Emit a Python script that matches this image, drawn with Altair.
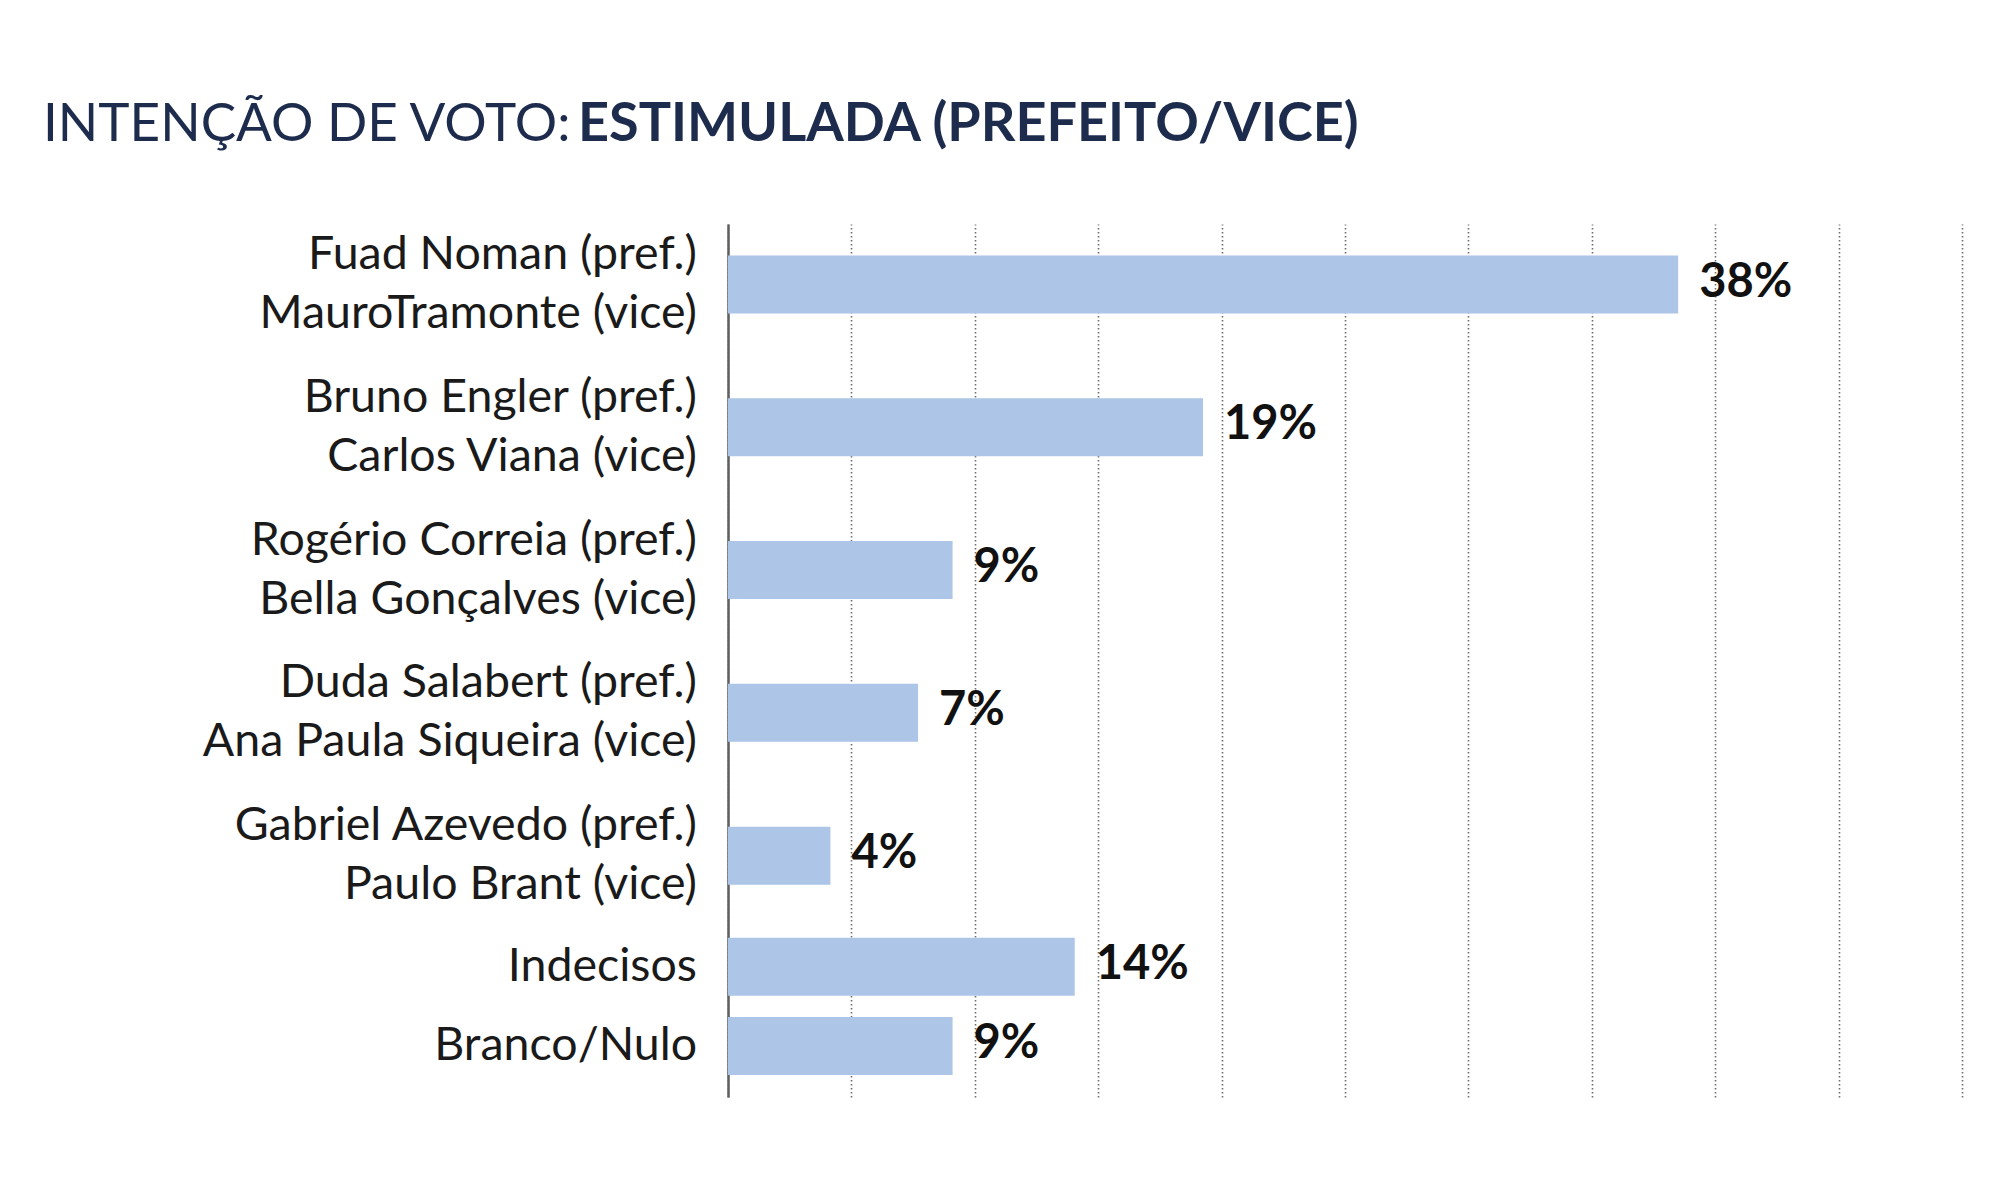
import altair as alt
import pandas as pd

labels = [
    "Fuad Noman (pref.)\nMauroTramonte (vice)",
    "Bruno Engler (pref.)\nCarlos Viana (vice)",
    "Rogério Correia (pref.)\nBella Gonçalves (vice)",
    "Duda Salabert (pref.)\nAna Paula Siqueira (vice)",
    "Gabriel Azevedo (pref.)\nPaulo Brant (vice)",
    "Indecisos",
    "Branco/Nulo",
]
# bar lengths as drawn in the picture
values = [38.5, 19.25, 9.1, 7.7, 4.15, 14.05, 9.1]
value_labels = ["38%", "19%", "9%", "7%", "4%", "14%", "9%"]
title_regular = "INTENÇÃO DE VOTO:"
title_bold = "ESTIMULADA (PREFEITO/VICE)"
grid_ticks = [0, 5, 10, 15, 20, 25, 30, 35, 40, 45, 50]

df = pd.DataFrame({"label": labels, "value": values, "vlabel": value_labels})
# row height derived from the number of text lines in each label
df["lines"] = df["label"].str.count("\n") + 1
weights = df["lines"] + 0.25
df["pos"] = weights.cumsum() - weights / 2

FONT = "Lato"
W, H = 1234, 873
LH = 59

X = alt.X("value:Q", scale=alt.Scale(domain=[0, 50], nice=False),
          axis=alt.Axis(values=grid_ticks, labels=False, ticks=False, domain=False, title=None,
                        grid=True, gridColor="#6f6f6f", gridDash=[1.5, 2.5], gridWidth=1.6))
Y = alt.Y("pos:Q", scale=alt.Scale(domain=[0.25, 13.85], reverse=True, nice=False, zero=False),
          axis=alt.Axis(labels=False, ticks=False, grid=False, title=None,
                        domainColor="#5f5f5f", domainWidth=2.5))

base = alt.Chart(df)

bars = base.mark_bar(color="#adc6e8", size=58, orient="horizontal").encode(x=X, y=Y)

vals = base.mark_text(align="left", baseline="middle", dx=21, dy=-2, font=FONT, fontWeight="bold",
                      fontSize=47, color="#111111").encode(x=X, y=Y, text="vlabel:N")

cat_style = dict(align="right", baseline="middle", font=FONT, fontSize=46.5,
                 lineHeight=LH, lineBreak="\n", color="#1a1a1a")
cats2 = base.transform_filter("datum.lines == 2").mark_text(dy=-LH / 2, **cat_style).encode(
    x=alt.value(-31), y=Y, text="label:N")
cats1 = base.transform_filter("datum.lines == 1").mark_text(**cat_style).encode(
    x=alt.value(-31), y=Y, text="label:N")

t1 = alt.Chart(pd.DataFrame({"t": [title_regular]})).mark_text(
    align="left", baseline="alphabetic", font=FONT, fontSize=53, color="#1d2b4d").encode(
    x=alt.value(-685), y=alt.value(-83), text="t:N")
t2 = alt.Chart(pd.DataFrame({"t": [title_bold]})).mark_text(
    align="left", baseline="alphabetic", font=FONT, fontWeight="bold", fontSize=54,
    color="#1d2b4d").encode(
    x=alt.value(-150), y=alt.value(-83), text="t:N")

chart = alt.layer(bars, vals, cats2, cats1, t1, t2).properties(
    width=W, height=H,
    background="white",
    autosize=alt.AutoSizeParams(type="none"),
    padding={"left": 720, "top": 216, "right": 30, "bottom": 80},
).configure_view(strokeWidth=0)

chart.save("out.html", embed_options={"renderer": "svg", "actions": False})
